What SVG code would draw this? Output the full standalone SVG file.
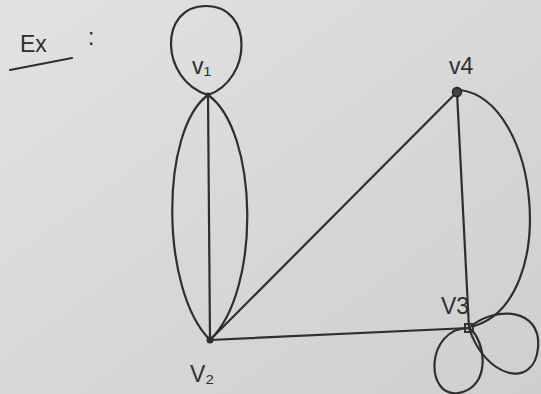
<svg xmlns="http://www.w3.org/2000/svg" width="541" height="394" viewBox="0 0 541 394">
<defs>
<linearGradient id="bg" x1="0" y1="0" x2="1" y2="1">
<stop offset="0" stop-color="#e2e2e2"/>
<stop offset="0.6" stop-color="#d6d6d6"/>
<stop offset="1" stop-color="#cfcfcf"/>
</linearGradient>
<style>
.e{fill:none;stroke:#2f2f2f;stroke-width:2.2;stroke-linecap:round;stroke-linejoin:round}
.t{font-family:"Liberation Sans",Arial,sans-serif;fill:#2f2f2f;font-size:23px}
.d{fill:#2e2e2e}
</style>
</defs>
<rect width="541" height="394" fill="url(#bg)"/>
<g id="title">
<text class="t" x="20" y="52" font-size="32">Ex</text>
<text class="t" x="88" y="45" font-size="26">:</text>
<path class="e" d="M10,70 L72,58"/>
</g>
<g id="edges">
<path class="e" d="M208,95 L210,340"/>
<path class="e" d="M208,95 C160,130 160,290 210,340"/>
<path class="e" d="M208,95 C258,130 262,290 210,340"/>
<path class="e" d="M210,340 L457,92"/>
<path class="e" d="M210,340 L469,328"/>
<path class="e" d="M457,92 L469,328"/>
<path class="e" d="M460,90 C540,100 560,300 474,326"/>
<path class="e" d="M208,95 C160,80 158,6 206,6 C254,6 252,80 208,95"/>
<path class="e" d="M469,328 C425,328 425,398 458,393 C492,388 486,340 469,328"/>
<path class="e" d="M469,328 C495,305 542,308 538,348 C534,390 485,378 469,328"/>
</g>
<g id="v1">
<circle class="d" cx="208" cy="95" r="2.5"/>
<text class="t" x="192" y="74">v₁</text>
</g>
<g id="v2">
<circle class="d" cx="210" cy="340" r="3.5"/>
<text class="t" x="190" y="382">V₂</text>
</g>
<g id="v3">
<rect x="465" y="324" width="8" height="8" fill="none" stroke="#333" stroke-width="2"/>
<text class="t" x="441" y="314">V3</text>
</g>
<g id="v4">
<circle cx="457" cy="92" r="4.5" fill="#444" stroke="#222" stroke-width="1.5"/>
<text class="t" x="449" y="74">v4</text>
</g>
</svg>
